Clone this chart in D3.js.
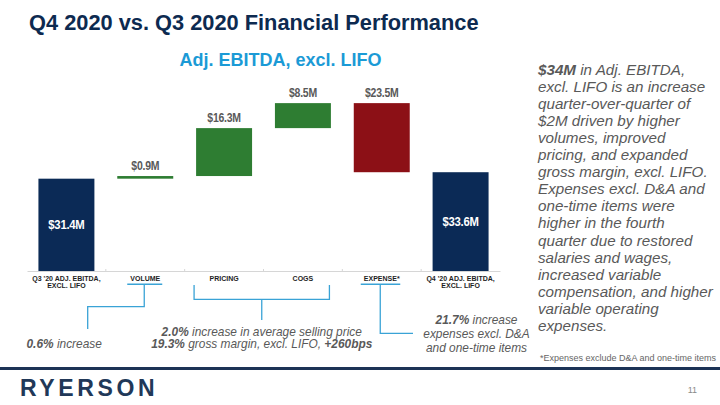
<!DOCTYPE html>
<html>
<head>
<meta charset="utf-8">
<script src="https://cdn.jsdelivr.net/npm/d3@7"></script>
<style>
  html, body { margin: 0; padding: 0; background: #ffffff; }
  svg { display: block; font-family: "Liberation Sans", Arial, sans-serif; }
</style>
</head>
<body>
<svg id="chart" width="720" height="405"></svg>
<script>
// ---- data ----
const categories = ["Q3 '20 ADJ. EBITDA,|EXCL. LIFO", "VOLUME", "PRICING", "COGS", "EXPENSE*", "Q4 '20 ADJ. EBITDA,|EXCL. LIFO"];
const values = [31.4, 0.9, 16.3, 8.5, -23.5, 33.6];
const barTypes = ["total", "increase", "increase", "increase", "decrease", "total"];
const valueLabels = ["$31.4M", "$0.9M", "$16.3M", "$8.5M", "$23.5M", "$33.6M"];
const yDomain = [0, 60];

const colors = { total: "#0b2a56", increase: "#2e7d32", decrease: "#8c1016" };
const navy = "#0d2a50";
const textGray = "#595959";
const lineBlue = "#3aa3d6";

// waterfall running totals
let running = 0;
const bars = categories.map((c, i) => {
  let start, end;
  if (barTypes[i] === "total") { start = 0; end = values[i]; running = values[i]; }
  else { start = running; end = running + values[i]; running = end; }
  return { cat: c, type: barTypes[i], start, end, label: valueLabels[i] };
});

const svg = d3.select("#chart");

// Title + subtitle
svg.append("text").attr("x", 29).attr("y", 29.5)
  .attr("font-size", 21.8).attr("font-weight", "bold").attr("fill", navy)
  .text("Q4 2020 vs. Q3 2020 Financial Performance");
svg.append("text").attr("x", 280.5).attr("y", 65.5).attr("text-anchor", "middle")
  .attr("font-size", 18).attr("font-weight", "bold").attr("fill", "#1b9ad6")
  .text("Adj. EBITDA, excl. LIFO");

// scales
const x = d3.scaleBand().domain(categories).range([27, 500]).paddingInner(0.29).paddingOuter(0.145);
const y = d3.scaleLinear().domain(yDomain).range([271, 271 - 60 * 2.94]);

// bars
const g = svg.append("g");
g.selectAll("rect.bar").data(bars).join("rect")
  .attr("class", "bar")
  .attr("x", d => x(d.cat))
  .attr("width", x.bandwidth())
  .attr("y", d => y(Math.max(d.start, d.end)))
  .attr("height", d => Math.abs(y(d.start) - y(d.end)))
  .attr("fill", d => colors[d.type]);

// labels (condensed via horizontal scale)
g.selectAll("text.val").data(bars).join("text")
  .attr("class", "val")
  .attr("transform", d => {
    const tx = x(d.cat) + x.bandwidth() / 2;
    const ty = d.type === "total"
      ? (y(d.start) + y(d.end)) / 2 + 4.5
      : y(Math.max(d.start, d.end)) - 6;
    return `translate(${tx},${ty}) scale(0.84,1)`;
  })
  .attr("text-anchor", "middle")
  .attr("font-weight", "bold")
  .attr("font-size", d => d.type === "total" ? 13.5 : 12.5)
  .attr("letter-spacing", -0.3)
  .attr("fill", d => d.type === "total" ? "#ffffff" : textGray)
  .text(d => d.label);

// axis
const axis = svg.append("g").attr("transform", "translate(0,271)")
  .call(d3.axisBottom(x).tickSize(0).tickPadding(0));
axis.select(".domain").attr("stroke", "#d6d6d6").attr("stroke-width", 1);
axis.selectAll(".tick text").each(function(d) {
  const t = d3.select(this);
  t.text(null).attr("dy", null).attr("y", null)
    .attr("font-size", 7).attr("font-weight", "bold").attr("fill", "#1e1e1e")
    .attr("font-family", '"Liberation Sans", Arial, sans-serif');
  d.split("|").forEach((line, i) => {
    t.append("tspan").attr("x", 0).attr("y", 9.8 + i * 6.8).text(line);
  });
});
// faint boundary ticks
const step = x.step();
axis.selectAll("line.bnd").data(categories.slice(1)).join("line")
  .attr("class", "bnd")
  .attr("x1", d => x(d) - (step - x.bandwidth()) / 2)
  .attr("x2", d => x(d) - (step - x.bandwidth()) / 2)
  .attr("y1", -2).attr("y2", 0)
  .attr("stroke", "#d6d6d6");

// annotation connectors
const cx = c => x(c) + x.bandwidth() / 2;
const conn = svg.append("g").attr("fill", "none").attr("stroke", lineBlue).attr("stroke-width", 1.3);
// underlines
conn.append("line").attr("x1", cx("VOLUME") - 18).attr("x2", cx("VOLUME") + 17).attr("y1", 284.3).attr("y2", 284.3).attr("stroke-width", 1.6);
conn.append("line").attr("x1", cx("EXPENSE*") - 21).attr("x2", cx("EXPENSE*") + 18.5).attr("y1", 284.3).attr("y2", 284.3).attr("stroke-width", 1.6);
// volume elbow
conn.append("path").attr("d", d3.line()([[cx("VOLUME") - 1, 284.3], [cx("VOLUME") - 1, 306.7], [87.7, 306.7], [87.7, 329]]));
// pricing / cogs bracket
const bl = cx("PRICING") - 30, br = cx("COGS") + 26.5, bm = (bl + br) / 2;
conn.append("path").attr("d", d3.line()([[bl, 285], [bl, 299.3], [br, 299.3], [br, 285]]));
conn.append("line").attr("x1", bm).attr("x2", bm).attr("y1", 299.3).attr("y2", 320);
// expense elbow
conn.append("path").attr("d", d3.line()([[cx("EXPENSE*") - 1.5, 284.3], [cx("EXPENSE*") - 1.5, 333.3], [413, 333.3]]));

// annotation text helper
function richText(xp, yp, anchor, parts, size) {
  const t = svg.append("text").attr("x", xp).attr("y", yp).attr("text-anchor", anchor)
    .attr("font-size", size).attr("font-style", "italic").attr("fill", textGray);
  parts.forEach(p => t.append("tspan").attr("font-weight", p[1] ? "bold" : "normal").text(p[0]));
  return t;
}
const annSize = 11.9;
richText(26.5, 348, "start", [["0.6%", true], [" increase", false]], annSize);
richText(bm, 335.5, "middle", [["2.0%", true], [" increase in average selling price", false]], annSize);
richText(bm, 348, "middle", [["19.3%", true], [" gross margin, excl. LIFO, ", false], ["+260bps", true]], annSize);
richText(476.5, 324, "middle", [["21.7%", true], [" increase", false]], annSize);
richText(476.5, 338, "middle", [["expenses excl. D&A", false]], annSize);
richText(476.5, 352.3, "middle", [["and one-time items", false]], annSize);

// right paragraph
const paraLines = [
  [["$34M", true], [" in Adj. EBITDA,", false]],
  [["excl. LIFO is an increase", false]],
  [["quarter-over-quarter of", false]],
  [["$2M driven by higher", false]],
  [["volumes, improved", false]],
  [["pricing, and expanded", false]],
  [["gross margin, excl. LIFO.", false]],
  [["Expenses excl. D&A and", false]],
  [["one-time items were", false]],
  [["higher in the fourth", false]],
  [["quarter due to restored", false]],
  [["salaries and wages,", false]],
  [["increased variable", false]],
  [["compensation, and higher", false]],
  [["variable operating", false]],
  [["expenses.", false]]
];
paraLines.forEach((ln, i) => richText(538, 74.5 + i * 17.1, "start", ln, 15.2));

// footnote
svg.append("text").attr("x", 716).attr("y", 361).attr("text-anchor", "end")
  .attr("font-size", 9).attr("fill", "#666666")
  .text("*Expenses exclude D&A and one-time items");

// bottom rule + logo + page number
svg.append("rect").attr("x", 0).attr("y", 367).attr("width", 720).attr("height", 3).attr("fill", "#1c3356");
svg.append("text").attr("x", 20).attr("y", 396).attr("font-size", 23).attr("font-weight", "bold")
  .attr("letter-spacing", 3.6).attr("fill", "#213858").text("RYERSON");
svg.append("text").attr("x", 697).attr("y", 393).attr("text-anchor", "end")
  .attr("font-size", 9).attr("fill", "#8a8a8a").text("11");
</script>
</body>
</html>
